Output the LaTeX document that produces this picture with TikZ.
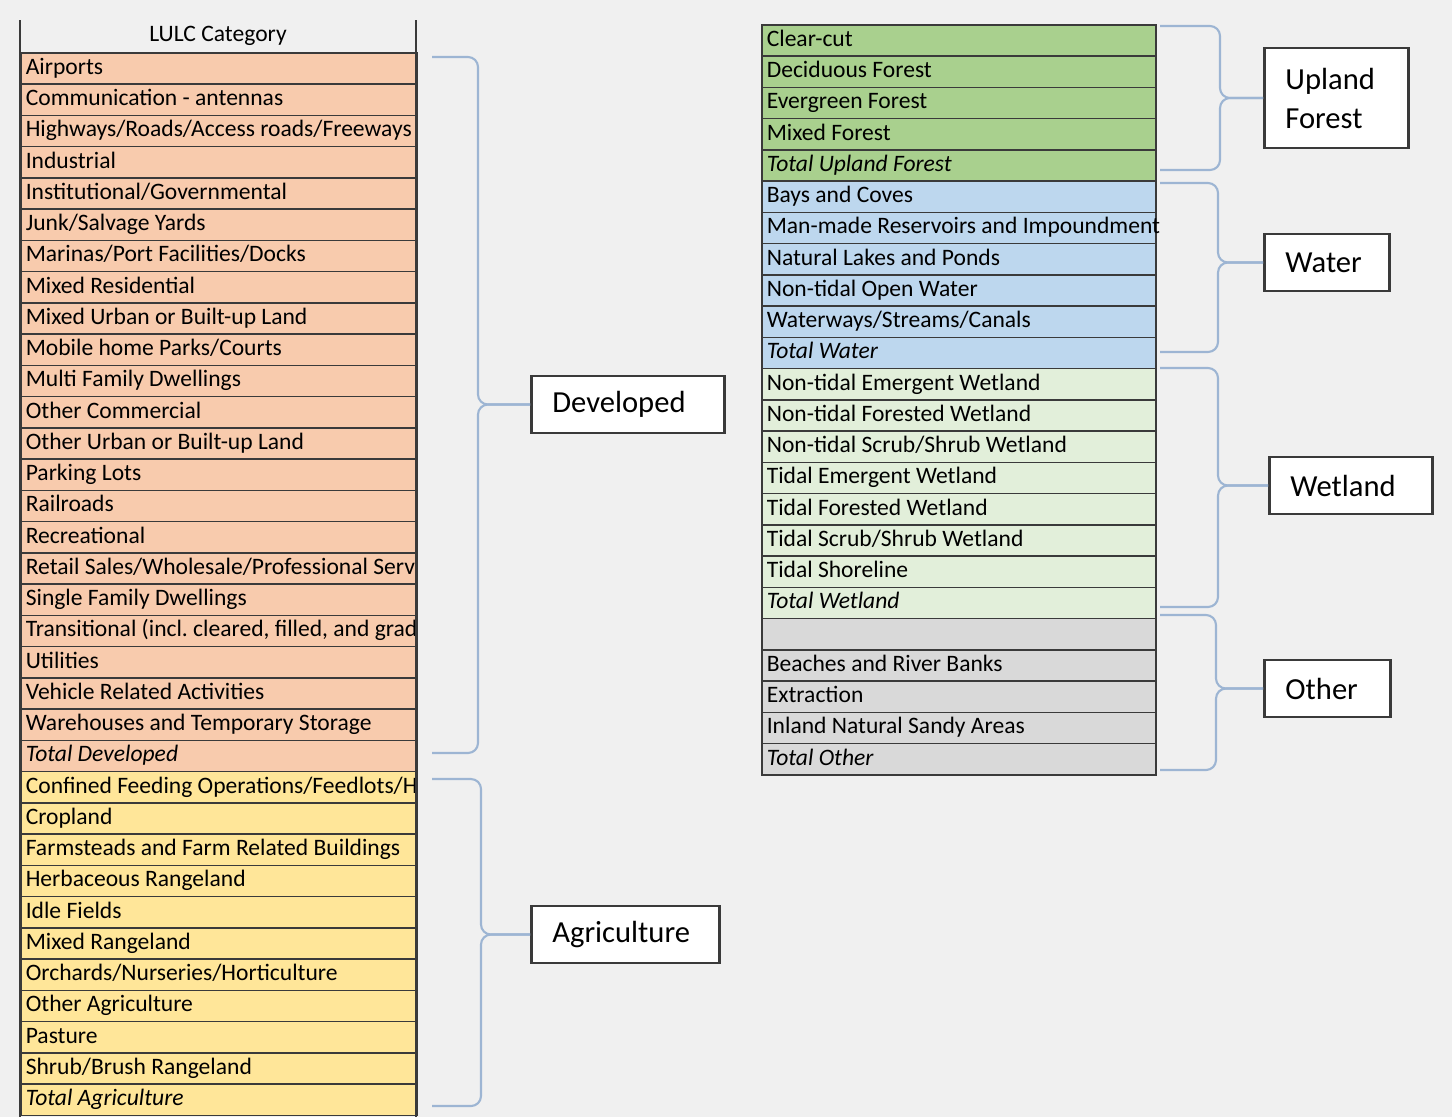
\documentclass[tikz,border=0pt]{standalone}
\usepackage{fontspec}
\setmainfont{Carlito}
\usetikzlibrary{calc}

\definecolor{bgcol}{HTML}{F0F0F0}
\definecolor{linecol}{HTML}{3A3A3A}
\definecolor{bracecol}{HTML}{9DB5D3}
\definecolor{devcol}{HTML}{F8CBAD}
\definecolor{agrcol}{HTML}{FFE699}
\definecolor{forcol}{HTML}{A9D08E}
\definecolor{watcol}{HTML}{BDD7EE}
\definecolor{wetcol}{HTML}{E2EFDA}
\definecolor{othcol}{HTML}{D9D9D9}

\newcommand\rowfont{\fontsize{6.7}{7}\selectfont}
\newcommand\catfont{\fontsize{8.7}{11.1}\selectfont}

\tikzset{
  leftrow/.style={draw=linecol,line width=0.45pt,minimum width=3.96cm,minimum height=0.3125cm,inner sep=0pt,text height=0.17cm,text depth=0.05cm,anchor=north west,font=\rowfont},
  rightrow/.style={leftrow,minimum width=3.94cm},
  catbox/.style={draw=linecol,line width=0.8pt,fill=white,anchor=west,inner xsep=0.21cm,minimum height=0.57cm,align=left,font=\catfont},
  bracket/.style={draw=bracecol,line width=0.6pt,rounded corners=0.1cm}
}

\begin{document}
\begin{tikzpicture}[x=0.01cm,y=-0.01cm]
  \useasboundingbox (0,0) rectangle (1452,1117);
  \path[fill=bgcol] (0,0) rectangle (1452,1117);

  % left table
  \node[font=\rowfont] (hdr) at (218,36) {LULC Category};
  \foreach \t [count=\i from 0] in {Airports,Communication - antennas,Highways/Roads/Access roads/Freeways,Industrial,Institutional/Governmental,Junk/Salvage Yards,Marinas/Port Facilities/Docks,Mixed Residential,Mixed Urban or Built-up Land,Mobile home Parks/Courts,Multi Family Dwellings,Other Commercial,Other Urban or Built-up Land,Parking Lots,Railroads,Recreational,Retail Sales/Wholesale/Professional Serv,Single Family Dwellings,{Transitional (incl.\ cleared, filled, and grad},Utilities,Vehicle Related Activities,Warehouses and Temporary Storage,\textit{Total Developed}}
    \node[leftrow,fill=devcol] (dev\i) at (20,{52+\i*31.25}) {\makebox[3.86cm][l]{\t}};
  \foreach \t [count=\i from 0] in {Confined Feeding Operations/Feedlots/H,Cropland,Farmsteads and Farm Related Buildings,Herbaceous Rangeland,Idle Fields,Mixed Rangeland,Orchards/Nurseries/Horticulture,Other Agriculture,Pasture,Shrub/Brush Rangeland,\textit{Total Agriculture}}
    \node[leftrow,fill=agrcol] (agr\i) at (20,{770.75+\i*31.25}) {\makebox[3.86cm][l]{\t}};
  \draw[linecol,line width=0.45pt] (20,20) -- (20,1117);
  \draw[linecol,line width=0.45pt] (416,20) -- (416,1117);

  % right table
  \foreach \t [count=\i from 0] in {Clear-cut,Deciduous Forest,Evergreen Forest,Mixed Forest,\textit{Total Upland Forest}}
    \node[rightrow,fill=forcol] (for\i) at (761,{24+\i*31.25}) {\makebox[3.84cm][l]{\t}};
  \foreach \t [count=\i from 0] in {Bays and Coves,Man-made Reservoirs and Impoundment,Natural Lakes and Ponds,Non-tidal Open Water,Waterways/Streams/Canals,\textit{Total Water}}
    \node[rightrow,fill=watcol] (wat\i) at (761,{180.25+\i*31.25}) {\makebox[3.84cm][l]{\t}};
  \foreach \t [count=\i from 0] in {Non-tidal Emergent Wetland,Non-tidal Forested Wetland,Non-tidal Scrub/Shrub Wetland,Tidal Emergent Wetland,Tidal Forested Wetland,Tidal Scrub/Shrub Wetland,Tidal Shoreline,\textit{Total Wetland}}
    \node[rightrow,fill=wetcol] (wet\i) at (761,{367.75+\i*31.25}) {\makebox[3.84cm][l]{\t}};
  \foreach \t [count=\i from 0] in {{},Beaches and River Banks,Extraction,Inland Natural Sandy Areas,\textit{Total Other}}
    \node[rightrow,fill=othcol] (oth\i) at (761,{617.75+\i*31.25}) {\makebox[3.84cm][l]{\t}};

  % category boxes
  \node[catbox,text width=1.51cm] (developed) at (530,404.5) {Developed};
  \node[catbox,text width=1.46cm] (agriculture) at (530,934.5) {Agriculture};
  \node[catbox,text width=1.02cm,minimum height=1cm] (upland) at (1263,98) {Upland\\Forest};
  \node[catbox,text width=0.83cm] (water) at (1263,262.5) {Water};
  \node[catbox,text width=1.21cm] (wetland) at (1268,485.5) {Wetland};
  \node[catbox,text width=0.84cm] (other) at (1263,688.5) {Other};

  % braces
  \coordinate (devTop) at (432,57);
  \coordinate (devBot) at (432,753);
  \coordinate (agrTop) at (432,779);
  \coordinate (agrBot) at (432,1106);
  \coordinate (forTop) at (1160,26);
  \coordinate (forBot) at (1160,170);
  \coordinate (watTop) at (1160,183);
  \coordinate (watBot) at (1160,352);
  \coordinate (wetTop) at (1160,368);
  \coordinate (wetBot) at (1160,607);
  \coordinate (othTop) at (1160,615);
  \coordinate (othBot) at (1160,770);

  \draw[bracket] (devTop) -| ($(developed.west)+(-52,0)$) -- (developed.west);
  \draw[bracket] (devBot) -| ($(developed.west)+(-52,0)$) -- (developed.west);
  \draw[bracket] (agrTop) -| ($(agriculture.west)+(-49,0)$) -- (agriculture.west);
  \draw[bracket] (agrBot) -| ($(agriculture.west)+(-49,0)$) -- (agriculture.west);
  \draw[bracket] (forTop) -| ($(upland.west)+(-43,0)$) -- (upland.west);
  \draw[bracket] (forBot) -| ($(upland.west)+(-43,0)$) -- (upland.west);
  \draw[bracket] (watTop) -| ($(water.west)+(-45,0)$) -- (water.west);
  \draw[bracket] (watBot) -| ($(water.west)+(-45,0)$) -- (water.west);
  \draw[bracket] (wetTop) -| ($(wetland.west)+(-50,0)$) -- (wetland.west);
  \draw[bracket] (wetBot) -| ($(wetland.west)+(-50,0)$) -- (wetland.west);
  \draw[bracket] (othTop) -| ($(other.west)+(-47,0)$) -- (other.west);
  \draw[bracket] (othBot) -| ($(other.west)+(-47,0)$) -- (other.west);
\end{tikzpicture}
\end{document}
